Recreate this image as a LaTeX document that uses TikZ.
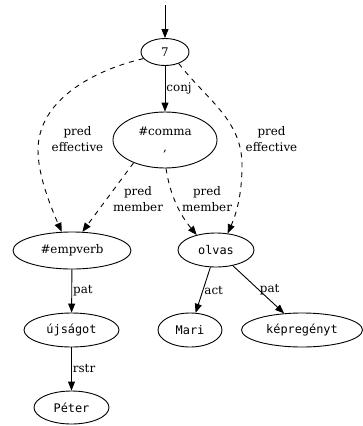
\documentclass[tikz,border=0pt]{standalone}
\usepackage{fontspec}
\setmainfont{DejaVu Serif}
\setmonofont{DejaVu Sans Mono}
\usetikzlibrary{arrows.meta,shapes.geometric,positioning}

\begin{document}
\begin{tikzpicture}[x=1pt, y=-1pt, line width=0.9pt,
  every node/.style={font=\fontsize{11.9}{16.5}\selectfont},
  tnode/.style={draw, ellipse, inner sep=0pt, minimum height=34pt},
  lemma/.style={tnode, font=\fontsize{11.9}{16.5}\selectfont\ttfamily},
  edge/.style={-{Triangle[length=9pt,width=7pt]}},
  pred/.style={edge, dash pattern=on 5pt off 5pt},
  lbl/.style={align=center, inner sep=1pt}]
\useasboundingbox (0,0) rectangle (363,426);
% nodes of the tree
\node[tnode, minimum width=48pt, minimum height=27pt] (n7) at (165,52) {7};
\node[tnode, minimum width=104pt, minimum height=56pt, align=center] (comma) at (165,140) {\#comma\\,};
\node[tnode, minimum width=118pt, minimum height=37pt] (empverb) at (72,250.5) {\#empverb};
\node[lemma, minimum width=76pt] (olvas) at (216,250) {olvas};
\node[lemma, minimum width=95pt] (ujsagot) at (71.5,330) {újságot};
\node[lemma, minimum width=64pt] (mari) at (190,330) {Mari};
\node[lemma, minimum width=121pt] (kepregenyt) at (302,330) {képregényt};
\node[lemma, minimum width=75pt, minimum height=33pt] (peter) at (71.5,407.5) {Péter};
\coordinate (top) at (165,5);
% solid edges
\draw[edge] (top) -- (n7);
\draw[edge] (n7) -- node[lbl, right] {conj} (comma);
\draw[edge] (empverb) -- node[lbl, right] {pat} (ujsagot);
\draw[edge] (ujsagot) -- node[lbl, right] {rstr} (peter);
\draw[edge] (olvas) -- node[lbl, right] {act} (mari);
\draw[edge] (olvas) -- node[lbl, right] {pat} (kepregenyt);
% dashed pred edges
\draw[pred] (n7.197) .. controls (94,70) and (38,100) .. (38,150) .. controls (38,175) and (50,205) .. (empverb.119);
\draw[pred] (n7.-40) .. controls (207,100) and (242,120) .. (242,165) .. controls (242,190) and (238,210) .. (olvas.55);
\draw[pred] (comma.216) -- (empverb.61);
\draw[pred] (comma.-88) .. controls (170,195) and (180,215) .. (olvas.142);
\node[lbl] (le) at (77.5,139) {pred\\effective};
\node[lbl] (re) at (271.5,139) {pred\\effective};
\node[lbl] (lm) at (138,199) {pred\\member};
\node[lbl] (rm) at (207,199) {pred\\member};
\end{tikzpicture}
\end{document}
